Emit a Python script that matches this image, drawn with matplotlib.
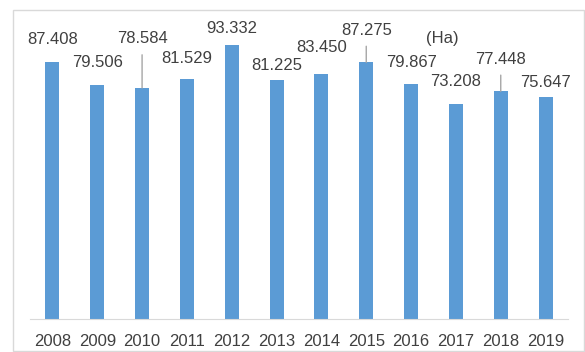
import matplotlib
matplotlib.use("Agg")
import matplotlib.pyplot as plt
from matplotlib.patches import Rectangle

years = ['2008', '2009', '2010', '2011', '2012', '2013',
         '2014', '2015', '2016', '2017', '2018', '2019']
area = [87408, 79506, 78584, 81529, 93332, 81225,
        83450, 87275, 79867, 73208, 77448, 75647]
labels = ['87.408', '79.506', '78.584', '81.529', '93.332', '81.225',
          '83.450', '87.275', '79.867', '73.208', '77.448', '75.647']

# label height above the bar top (pixels) and whether a leader line is drawn
label_off = [23, 23, 49, 21, 16, 15, 26, 32, 22, 22, 32, 14]
leader = [False, False, True, False, False, False,
          False, True, False, False, True, False]

plt.rcParams['font.family'] = ['Liberation Sans', 'DejaVu Sans']
txt_col = '#404040'

fig = plt.figure(figsize=(5.85, 3.52), dpi=100)
fig.patches.append(Rectangle((13 / 585, 1 / 352), 571 / 585, 341 / 352,
                             transform=fig.transFigure, fill=False,
                             edgecolor='#d9d9d9', linewidth=1.0))
ax = fig.add_axes([30 / 585, 33 / 352, 538 / 585, 294 / 352])

x = range(len(years))
ax.bar(x, area, width=0.31, color='#5b9bd5')
ax.set_xlim(-0.5, len(years) - 0.5)
ax.set_ylim(0, 100000)

for i, (v, lab) in enumerate(zip(area, labels)):
    off = label_off[i] * 72 / 100
    if leader[i]:
        ax.annotate(lab, xy=(i, v), xytext=(0, off), textcoords='offset points',
                    ha='center', va='center', fontsize=12, color=txt_col,
                    arrowprops=dict(arrowstyle='-', color='#a6a6a6', lw=1.0,
                                    shrinkA=4, shrinkB=0))
    else:
        ax.annotate(lab, xy=(i, v), xytext=(0, off), textcoords='offset points',
                    ha='center', va='center', fontsize=12, color=txt_col)

ax.text(442 / 585, 1 - 38 / 352, '(Ha)', transform=fig.transFigure,
        ha='center', va='center', fontsize=12, color=txt_col)

ax.set_xticks(list(x))
ax.set_xticklabels(years, fontsize=12, color=txt_col)
ax.tick_params(axis='x', length=0, pad=11)
ax.set_yticks([])
for s in ['top', 'right', 'left']:
    ax.spines[s].set_visible(False)
ax.spines['bottom'].set_color('#d9d9d9')

fig.savefig('out.png', dpi=100)
